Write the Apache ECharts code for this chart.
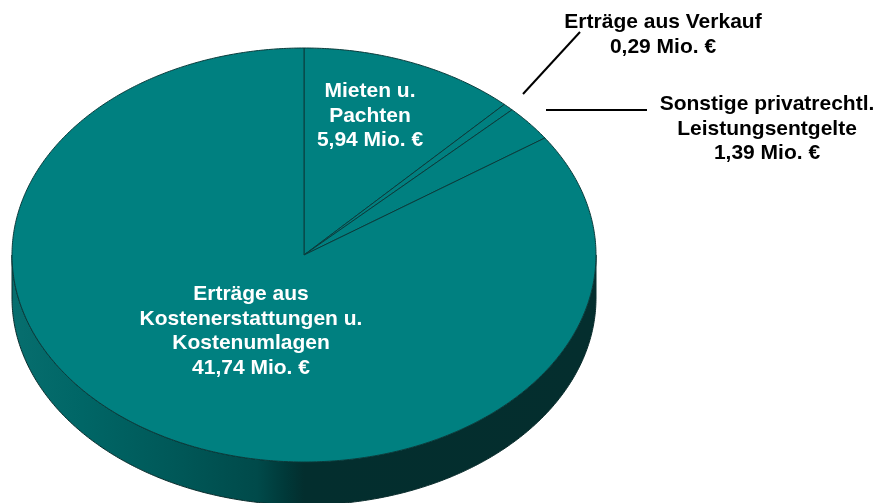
<!DOCTYPE html>
<html>
<head>
<meta charset="utf-8">
<style>html,body{margin:0;padding:0;background:#fff;overflow:hidden}#c{width:885px;height:503px}</style>
<script src="https://cdn.jsdelivr.net/npm/echarts@6/dist/echarts.min.js"></script>
</head>
<body>
<div id="c"></div>
<script>
// Data, clockwise from 12 o'clock
const categories = [
  'Mieten u.\nPachten',
  'Erträge aus Verkauf',
  'Sonstige privatrechtl.\nLeistungsentgelte',
  'Erträge aus\nKostenerstattungen u.\nKostenumlagen'
];
const values = [5.94, 0.29, 1.39, 41.74];
const unit = 'Mio. €';

// Layout and style
const CX = 304, CY = 255, RX = 292, RY = 207, DEPTH = 43;
const labelPos = [[370, 79], [663, 10], [767, 92], [251, 282]];
const labelColor = ['#fff', '#000', '#000', '#fff'];
const leaders = [null, [[580, 32], [523, 94]], [[546, 110], [647, 110]], null];
const LINE_H = 24.6;

const total = values.reduce((a, b) => a + b, 0);
const pt = (deg, dy) => {
  const r = deg * Math.PI / 180;
  return [CX + RX * Math.sin(r), CY - RY * Math.cos(r) + (dy || 0)];
};
const arc = (a0, a1, dy) => {
  const n = Math.max(2, Math.ceil((a1 - a0) * 2)), out = [];
  for (let i = 0; i <= n; i++) out.push(pt(a0 + (a1 - a0) * i / n, dy));
  return out;
};
const wallFill = {
  type: 'linear', x: 12, y: 0, x2: 596, y2: 0, global: true,
  colorStops: [
    { offset: 0, color: '#076e6e' },
    { offset: 0.12, color: '#006666' },
    { offset: 0.28, color: '#005858' },
    { offset: 0.42, color: '#004a4a' },
    { offset: 0.47, color: '#003838' },
    { offset: 0.5, color: '#032e2e' },
    { offset: 1, color: '#042e2e' }
  ]
};

function renderItem(params, api) {
  const i = params.dataIndex;
  let before = 0;
  for (let k = 0; k < i; k++) before += values[k];
  const a0 = before / total * 360;
  const a1 = a0 + api.value(0) / total * 360;
  const children = [];
  const lo = Math.max(a0, 90), hi = Math.min(a1, 270);
  if (hi > lo) {
    children.push({
      type: 'polygon',
      shape: { points: arc(lo, hi, 0).concat(arc(lo, hi, DEPTH).reverse()) },
      style: { fill: wallFill, stroke: '#0a2c2c', lineWidth: 1 }
    });
  }
  children.push({
    type: 'polygon',
    shape: { points: [[CX, CY]].concat(arc(a0, a1, 0)) },
    style: { fill: '#008080', stroke: '#0a3c3c', lineWidth: 1 }
  });
  if (leaders[i]) {
    children.push({
      type: 'polyline',
      shape: { points: leaders[i] },
      style: { fill: 'none', stroke: '#000', lineWidth: 2 }
    });
  }
  children.push({
    type: 'text',
    x: labelPos[i][0], y: labelPos[i][1],
    style: {
      text: categories[i] + '\n' + api.value(0).toFixed(2).replace('.', ',') + ' ' + unit,
      fill: labelColor[i],
      font: 'bold 21px "Liberation Sans", Arial, sans-serif',
      align: 'center', verticalAlign: 'top', lineHeight: LINE_H
    }
  });
  return { type: 'group', children };
}

const chart = echarts.init(document.getElementById('c'), null, { renderer: 'canvas' });
chart.setOption({
  animation: false,
  backgroundColor: '#fff',
  series: [{
    type: 'custom',
    coordinateSystem: 'none',
    renderItem,
    data: values.map(v => [v]),
    silent: true
  }]
});
</script>
</body>
</html>
